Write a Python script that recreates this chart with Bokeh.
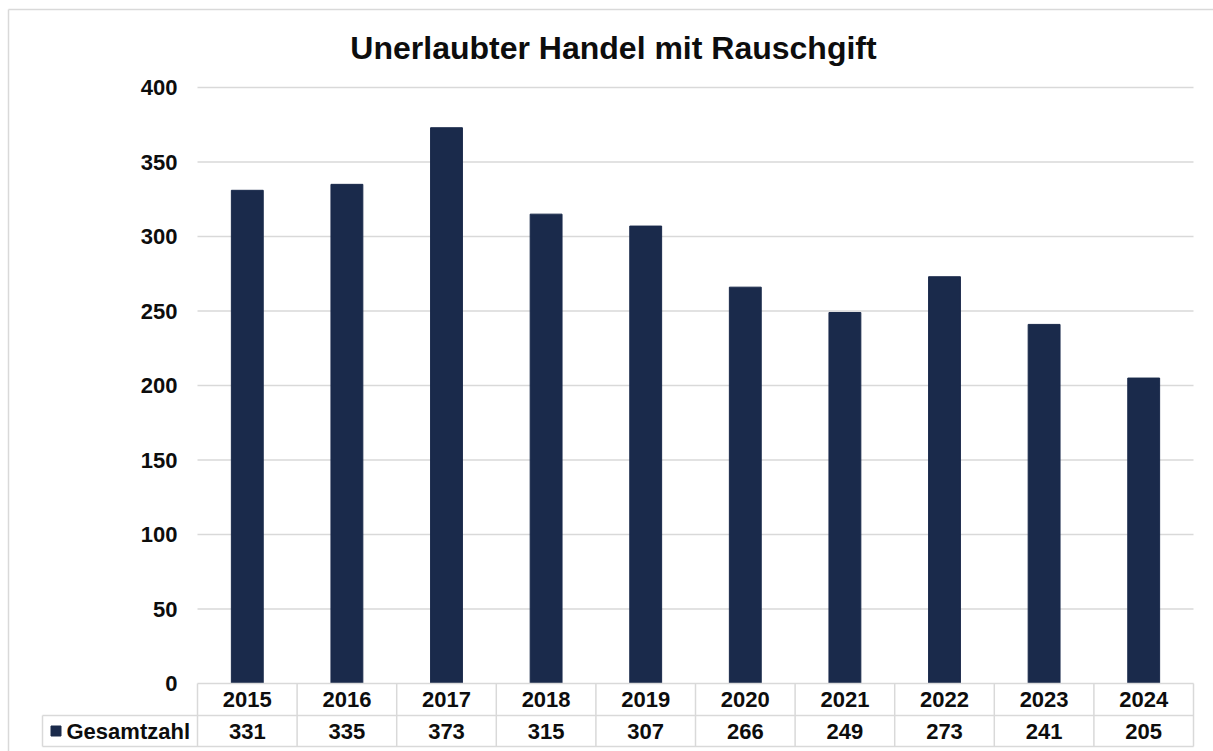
from bokeh.plotting import figure
from bokeh.models import Range1d
from bokeh.core.properties import value
from bokeh.embed import file_html
from bokeh.resources import INLINE

# ---- data ----
years = ["2015", "2016", "2017", "2018", "2019", "2020", "2021", "2022", "2023", "2024"]
counts = [331, 335, 373, 315, 307, 266, 249, 273, 241, 205]
y_ticks = [0, 50, 100, 150, 200, 250, 300, 350, 400]
series_name = "Gesamtzahl"
title_text = "Unerlaubter Handel mit Rauschgift"

# ---- layout (canvas pixels) ----
W, H = 1213, 751
PLOT_L, PLOT_R = 197, 1193
ZERO_Y, TOP_Y = 683, 87
ROW1_B, ROW2_B = 715, 746
TABLE_L = 42
BOX_L, BOX_T = 8, 9
Y_MAX = y_ticks[-1]

n = len(years)
ppx = (PLOT_R - PLOT_L) / n
ppy = (ZERO_Y - TOP_Y) / Y_MAX


def fx(px):
    return (px - PLOT_L) / ppx


def fy(py):
    return (ZERO_Y - py) / ppy


BAR = "#1a2a4b"
GRID = "#d9d9d9"
TXT = "#0d0d0d"
FONT = value("Liberation Sans")

p = figure(width=W, height=H, output_backend="svg", toolbar_location=None,
           x_range=Range1d(fx(0), fx(W)), y_range=Range1d(fy(H), fy(0)),
           min_border=0, tools="")
p.axis.visible = False
p.grid.visible = False
p.outline_line_color = None
p.background_fill_color = "white"
p.border_fill_color = "white"

# outer chart border (left and top edges visible)
p.segment(x0=[fx(BOX_L), fx(BOX_L)], x1=[fx(BOX_L), fx(W)], y0=[fy(BOX_T), fy(BOX_T)],
          y1=[fy(H), fy(BOX_T)], line_color=GRID, line_width=1.5)

xc = [i + 0.5 for i in range(n)]

# gridlines
grid_vals = [t for t in y_ticks if t > 0]
p.segment(x0=[0] * len(grid_vals), x1=[n] * len(grid_vals), y0=grid_vals, y1=grid_vals,
          line_color=GRID, line_width=1.5)

# bars
p.vbar(x=xc, top=counts, bottom=0, width=0.32, fill_color=BAR, line_color=BAR)

# y tick labels
p.text(x=[fx(PLOT_L - 20)] * len(y_ticks), y=y_ticks, text=[str(t) for t in y_ticks],
       text_align="right", text_baseline="middle", text_font=FONT,
       text_font_style="bold", text_font_size="22px", text_color=TXT)

# data table
r1 = fy(ROW1_B)
r2 = fy(ROW2_B)
xl = fx(TABLE_L)
p.segment(x0=[0, xl, xl], x1=[n, n, n], y0=[0, r1, r2], y1=[0, r1, r2],
          line_color=GRID, line_width=1.5)
p.segment(x0=list(range(n + 1)), x1=list(range(n + 1)), y0=[0] * (n + 1), y1=[r2] * (n + 1),
          line_color=GRID, line_width=1.5)
p.segment(x0=[xl], x1=[xl], y0=[r1], y1=[r2], line_color=GRID, line_width=1.5)

p.text(x=xc, y=[(0 + r1) / 2] * n, text=years, text_align="center", text_baseline="middle",
       text_font=FONT, text_font_style="bold", text_font_size="22px", text_color=TXT)
p.text(x=xc, y=[(r1 + r2) / 2] * n, text=[str(c) for c in counts], text_align="center",
       text_baseline="middle", text_font=FONT, text_font_style="bold",
       text_font_size="22px", text_color=TXT)

# legend key in table
p.scatter(x=[fx(55.5)], y=[(r1 + r2) / 2], marker="square", size=10,
          fill_color=BAR, line_color=BAR)
p.text(x=[fx(66)], y=[(r1 + r2) / 2], text=[series_name], text_align="left",
       text_baseline="middle", text_font=FONT, text_font_style="bold",
       text_font_size="22px", text_color=TXT)

# title
p.text(x=[fx(613)], y=[fy(47)], text=[title_text], text_align="center",
       text_baseline="middle", text_font=FONT, text_font_style="bold",
       text_font_size="32px", text_color=TXT)

open("out.html", "w").write(file_html(p, INLINE))
